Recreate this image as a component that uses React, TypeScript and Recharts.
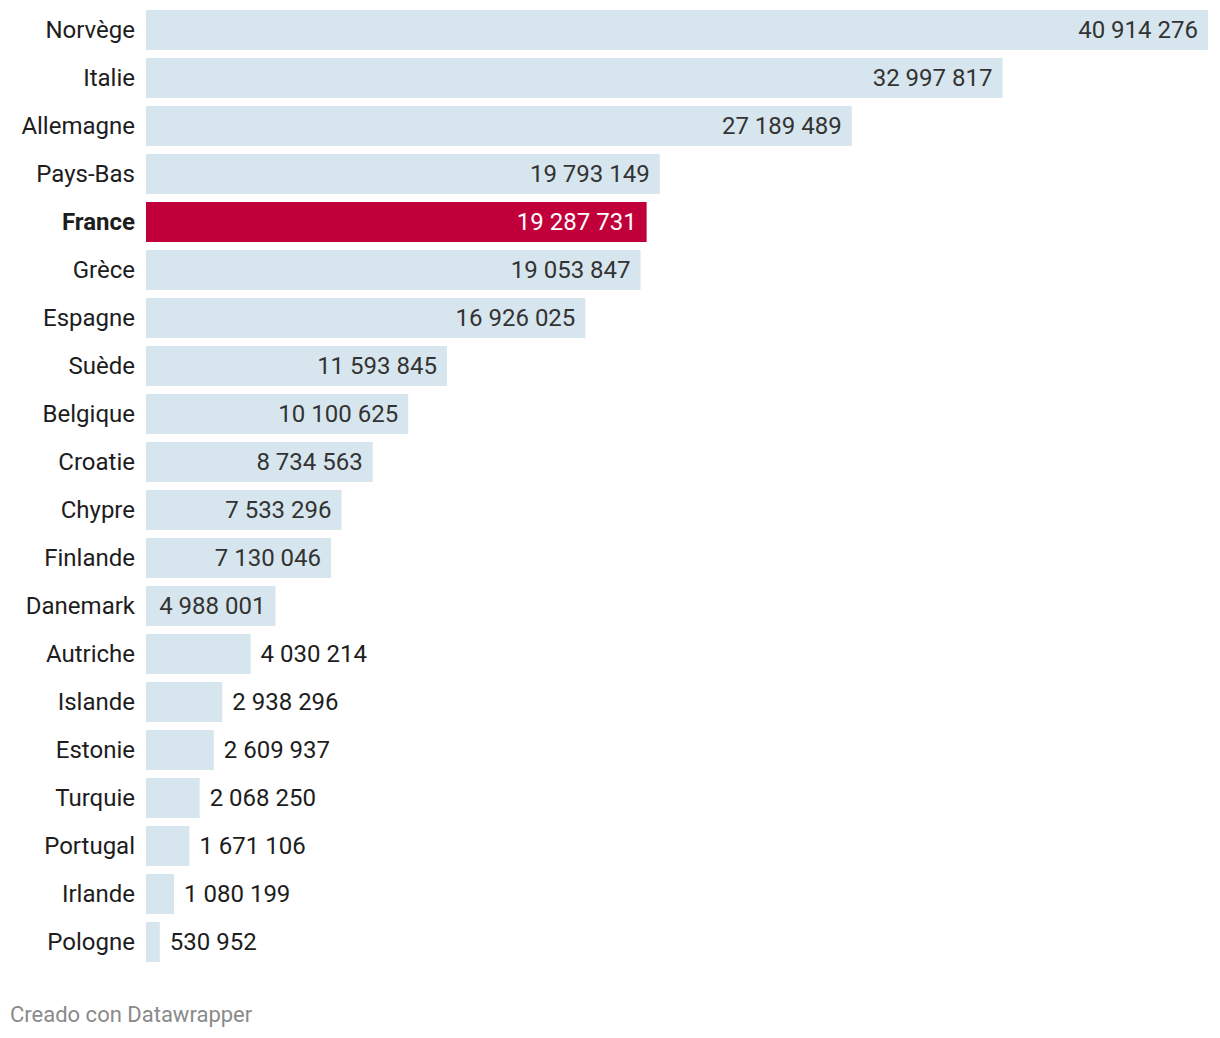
import React from 'react';
import { BarChart, Bar, XAxis, YAxis, Cell, LabelList } from 'recharts';

const countries = ['Norvège', 'Italie', 'Allemagne', 'Pays-Bas', 'France', 'Grèce', 'Espagne', 'Suède', 'Belgique', 'Croatie', 'Chypre', 'Finlande', 'Danemark', 'Autriche', 'Islande', 'Estonie', 'Turquie', 'Portugal', 'Irlande', 'Pologne'];
const values = [40914276, 32997817, 27189489, 19793149, 19287731, 19053847, 16926025, 11593845, 10100625, 8734563, 7533296, 7130046, 4988001, 4030214, 2938296, 2609937, 2068250, 1671106, 1080199, 530952];
const highlighted = ['France'];

const data = countries.map((c, i) => ({ country: c, value: values[i] }));

const FONT = 'Roboto, sans-serif';
const BAR = '#d7e6ee';
const HIGHLIGHT = '#c1003b';

function fmt(v: number): string {
  return String(v).replace(/\B(?=(\d{3})+(?!\d))/g, ' ');
}

function textWidth(s: string): number {
  let w = 0;
  for (const ch of s) w += ch === ' ' ? 6 : 13.5;
  return w;
}

const YTick = (props: any) => {
  const { x, y, payload } = props;
  const bold = highlighted.includes(payload.value);
  return (
    <text x={x} y={y} textAnchor="end" dominantBaseline="central" fontFamily={FONT} fontSize={24} fontWeight={bold ? 700 : 400} fill="#1d1d1d">
      {payload.value}
    </text>
  );
};

const ValueLabel = (props: any) => {
  const { x, y, width, height, value, index } = props;
  const s = fmt(value);
  const tw = textWidth(s);
  const hl = highlighted.includes(countries[index]);
  const inside = width >= tw + 20;
  const cy = y + height / 2;
  if (inside) {
    return (
      <text x={x + width - 10} y={cy} textAnchor="end" dominantBaseline="central" fontFamily={FONT} fontSize={24} fill={hl ? '#ffffff' : '#333333'}>
        {s}
      </text>
    );
  }
  return (
    <text x={x + width + 10} y={cy} textAnchor="start" dominantBaseline="central" fontFamily={FONT} fontSize={24} fill="#1d1d1d">
      {s}
    </text>
  );
};

export default function App() {
  return (
    <div style={{ position: 'absolute', left: 0, top: 0, width: 1220, height: 1038, background: '#fff' }}>
      <BarChart
        width={1220}
        height={1038}
        data={data}
        layout="vertical"
        margin={{ top: 6, right: 12, bottom: 72, left: 0 }}
        barCategoryGap={4}
      >
        <XAxis type="number" domain={[0, 40914276]} hide />
        <YAxis
          type="category"
          dataKey="country"
          width={146}
          axisLine={false}
          tickLine={false}
          tickSize={0}
          tickMargin={11}
          tick={<YTick />}
          interval={0}
        />
        <Bar dataKey="value" isAnimationActive={false}>
          {data.map((d) => (
            <Cell key={d.country} fill={highlighted.includes(d.country) ? HIGHLIGHT : BAR} />
          ))}
          <LabelList dataKey="value" content={<ValueLabel />} />
        </Bar>
      </BarChart>
      <div style={{ position: 'absolute', left: 10, top: 1000, fontFamily: FONT, fontSize: 22, color: '#8a8a8a', lineHeight: '30px' }}>
        Creado con Datawrapper
      </div>
    </div>
  );
}
